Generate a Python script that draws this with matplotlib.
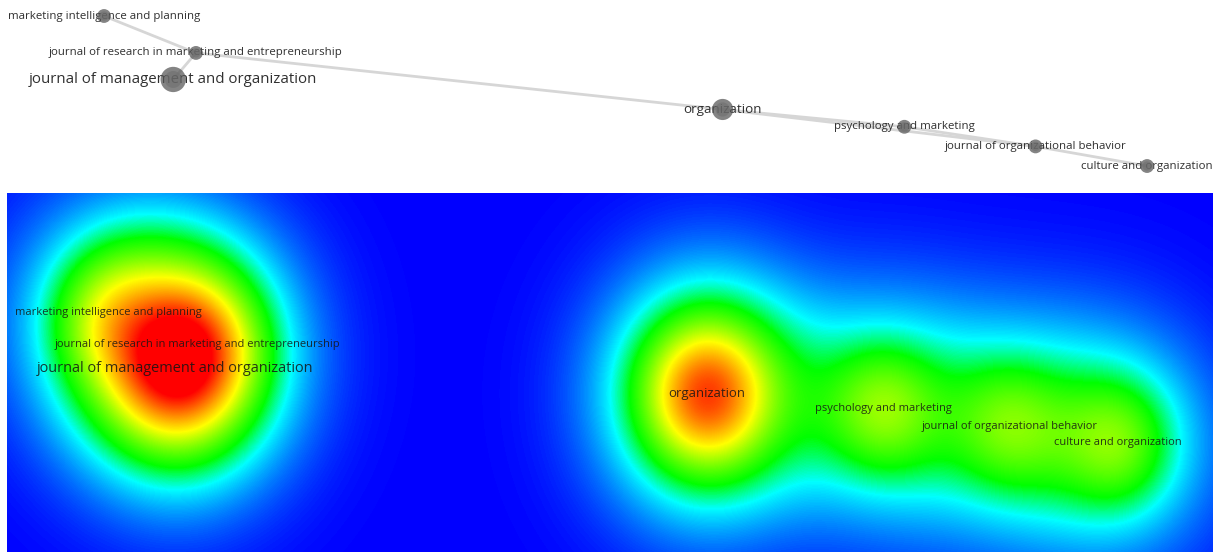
import numpy as np
import matplotlib
matplotlib.use("Agg")
import matplotlib.pyplot as plt
from matplotlib.colors import LinearSegmentedColormap

# ---------------- data ----------------
items = [
    "marketing intelligence and planning",
    "journal of research in marketing and entrepreneurship",
    "journal of management and organization",
    "organization",
    "psychology and marketing",
    "journal of organizational behavior",
    "culture and organization",
]
map_x = [108, 197, 175, 707, 883, 1010, 1118]
map_y = [313, 345, 368, 394, 409, 426, 443]
node_weight = [3.0, 3.0, 10.0, 7.0, 3.0, 3.0, 3.0]
density_weight = [0.35, 0.40, 0.75, 0.90, 0.44, 0.36, 0.42]
links = [(0, 1), (1, 2), (1, 3), (3, 4), (4, 5), (5, 6), (3, 5)]

# ---------------- figure ----------------
W, H = 1213, 552
fig = plt.figure(figsize=(W / 100, H / 100), dpi=100)
fig.patch.set_facecolor("white")
FONT = ["Open Sans", "DejaVu Sans"]

w_arr = np.array(node_weight)
fs = 7.15 + 0.365 * w_arr
r_px = 4.0 * np.sqrt(w_arr)

# ---------- top: network visualization ----------
top_h = 188
ax1 = fig.add_axes([0, 1 - top_h / H, 1, top_h / H])
sx, ox = 1.0327, -7.5
sy, oy = 1.154, -345.2
ax1.set_xlim((0 - ox) / sx, (W - ox) / sx)
ax1.set_ylim((top_h - oy) / sy, (0 - oy) / sy)
ax1.axis("off")

for a, b in links:
    ax1.plot([map_x[a], map_x[b]], [map_y[a], map_y[b]], color="#d6d6d6",
             lw=2.0, solid_capstyle="round", zorder=1)

for i, name in enumerate(items):
    ax1.text(map_x[i], map_y[i], name, ha="center", va="center",
             fontsize=fs[i], color="#303030", family=FONT, zorder=2)

sizes = (2 * r_px * 0.72) ** 2
ax1.scatter(map_x, map_y, s=sizes, color="#555555", alpha=0.72,
            edgecolors="none", zorder=3)
ax1.scatter(map_x, map_y, s=sizes * 0.45, color="#6f6f6f", alpha=0.6,
            edgecolors="none", zorder=4)

# ---------- bottom: density visualization ----------
y0 = 193
x0 = 7
ax2 = fig.add_axes([x0 / W, 0, (W - x0) / W, (H - y0) / H])
ax2.set_xlim(x0, W)
ax2.set_ylim(H, y0)
ax2.axis("off")

gx = np.arange(x0, W) + 0.5
gy = np.arange(y0, H) + 0.5
GX, GY = np.meshgrid(gx, gy)
aspect_y = 1.17
D = np.zeros_like(GX)
for xi, yi, wi in zip(map_x, map_y, density_weight):
    r2 = (GX - xi) ** 2 + ((GY - yi) / aspect_y) ** 2
    kern = 0.45 * np.exp(-r2 / (2 * 38.0 ** 2)) + 0.55 * np.exp(-r2 / (2 * 72.0 ** 2))
    D += wi * kern
V = np.clip(D, 0, 1)

cmap = LinearSegmentedColormap.from_list("vos", [
    (0.000, (0.0, 0.0, 1.0)),
    (0.215, (0.0, 1.0, 1.0)),
    (0.330, (0.0, 1.0, 0.0)),
    (0.620, (1.0, 1.0, 0.0)),
    (1.000, (1.0, 0.0, 0.0)),
])
ax2.imshow(V, cmap=cmap, vmin=0, vmax=1, extent=[x0, W, H, y0],
           interpolation="bilinear", aspect="auto", zorder=0)

for i, name in enumerate(items):
    ax2.text(map_x[i], map_y[i], name, ha="center", va="center",
             fontsize=fs[i] * 0.97, color="#151515", alpha=0.85,
             family=FONT, zorder=2)

fig.savefig("out.png", dpi=100, facecolor="white")
